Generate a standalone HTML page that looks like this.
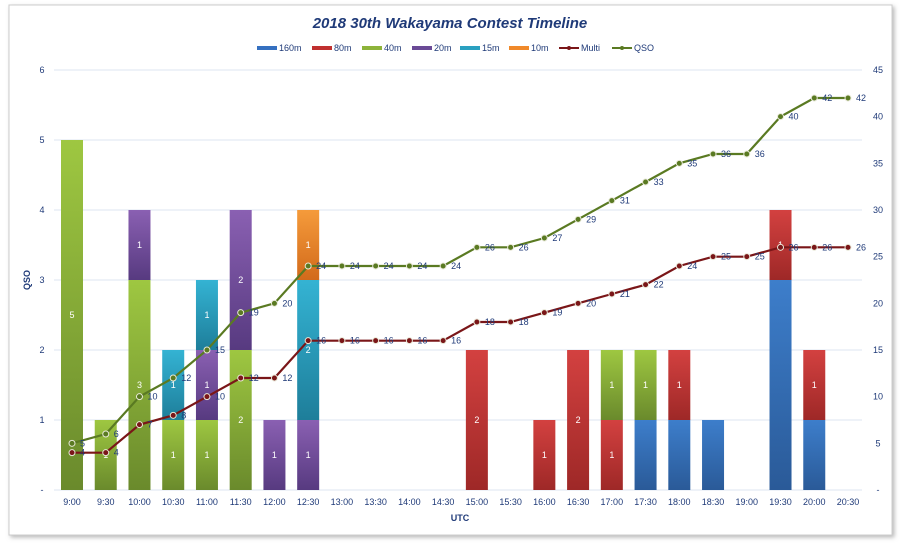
<!DOCTYPE html>
<html><head><meta charset="utf-8"><style>
body{margin:0;background:#fff;}
svg{display:block;font-family:"Liberation Sans",sans-serif;}
</style></head><body>
<svg id="chart" width="900" height="545">
<defs>
<filter id="sh" x="-5%" y="-5%" width="110%" height="110%"><feDropShadow dx="2" dy="2" stdDeviation="2" flood-color="#888" flood-opacity="0.6"/></filter>
<linearGradient id="g160" x1="0" y1="0" x2="0" y2="1"><stop offset="0" stop-color="#3d7ecb"/><stop offset="1" stop-color="#2a5a98"/></linearGradient>
<linearGradient id="g80" x1="0" y1="0" x2="0" y2="1"><stop offset="0" stop-color="#d34140"/><stop offset="1" stop-color="#9e2827"/></linearGradient>
<linearGradient id="g40" x1="0" y1="0" x2="0" y2="1"><stop offset="0" stop-color="#9ec741"/><stop offset="1" stop-color="#6a8a2c"/></linearGradient>
<linearGradient id="g20" x1="0" y1="0" x2="0" y2="1"><stop offset="0" stop-color="#8a60b2"/><stop offset="1" stop-color="#573a80"/></linearGradient>
<linearGradient id="g15" x1="0" y1="0" x2="0" y2="1"><stop offset="0" stop-color="#34b3d3"/><stop offset="1" stop-color="#1e7e9a"/></linearGradient>
<linearGradient id="g10" x1="0" y1="0" x2="0" y2="1"><stop offset="0" stop-color="#f59b3b"/><stop offset="1" stop-color="#d26a1b"/></linearGradient>
</defs>
<rect x="9" y="5" width="883" height="530" fill="#fff" stroke="#ccc" filter="url(#sh)"/>
<text x="450" y="28" text-anchor="middle" font-size="15" font-weight="bold" font-style="italic" fill="#1f3a78">2018 30th Wakayama  Contest Timeline</text>
<g id="legend"></g>
<g id="grid"></g><g id="bars"></g><g id="lines"></g><g id="axes"></g>
<text x="30" y="280" transform="rotate(-90 30 280)" text-anchor="middle" font-size="9" font-weight="bold" fill="#1f3a78">QSO</text>
<text x="460" y="521" text-anchor="middle" font-size="9" font-weight="bold" fill="#1f3a78">UTC</text>
</svg>
<script>
const categories=["9:00","9:30","10:00","10:30","11:00","11:30","12:00","12:30","13:00","13:30","14:00","14:30","15:00","15:30","16:00","16:30","17:00","17:30","18:00","18:30","19:00","19:30","20:00","20:30"];
const b160=[0,0,0,0,0,0,0,0,0,0,0,0,0,0,0,0,0,1,1,1,0,3,1,0];
const b80 =[0,0,0,0,0,0,0,0,0,0,0,0,2,0,1,2,1,0,1,0,0,1,1,0];
const b40 =[5,1,3,1,1,2,0,0,0,0,0,0,0,0,0,0,1,1,0,0,0,0,0,0];
const b20 =[0,0,1,0,1,2,1,1,0,0,0,0,0,0,0,0,0,0,0,0,0,0,0,0];
const b15 =[0,0,0,1,1,0,0,2,0,0,0,0,0,0,0,0,0,0,0,0,0,0,0,0];
const b10 =[0,0,0,0,0,0,0,1,0,0,0,0,0,0,0,0,0,0,0,0,0,0,0,0];
const multi=[4,4,7,8,10,12,12,16,16,16,16,16,18,18,19,20,21,22,24,25,25,26,26,26];
const qso=[5,6,10,12,15,19,20,24,24,24,24,24,26,26,27,29,31,33,35,36,36,40,42,42];
const leftTicks=[0,1,2,3,4,5,6];
const rightTicks=[0,5,10,15,20,25,30,35,40,45];
const NS="http://www.w3.org/2000/svg";
const X0=72,X1=848,Y0=490,Y1=70;
const xs=i=>X0+i*(X1-X0)/(categories.length-1);
const yl=v=>Y0-v*(Y0-Y1)/6;
const yr=v=>Y0-v*(Y0-Y1)/45;
function mk(tag,attrs,parent,txt){const e=document.createElementNS(NS,tag);for(const k in attrs)e.setAttribute(k,attrs[k]);if(txt!==undefined)e.textContent=txt;parent.appendChild(e);return e;}
const grid=document.getElementById('grid'),bars=document.getElementById('bars'),lines=document.getElementById('lines'),axes=document.getElementById('axes'),legend=document.getElementById('legend');
leftTicks.forEach(t=>{
  const l=mk('line',{x1:54,x2:862,y1:yl(t),y2:yl(t),stroke:'#dce6f2','stroke-width':1},grid);
  
  
  const tx=mk('text',{x:42,y:yl(t)+3,'text-anchor':'middle','font-size':9,fill:'#1f3a78'},axes,t===0?'-':String(t));
  
  
});
rightTicks.forEach(t=>{
  const tx=mk('text',{x:878,y:yr(t)+3,'text-anchor':'middle','font-size':9,fill:'#1f3a78'},axes,t===0?'-':String(t));
  
  
});
categories.forEach((c,i)=>{
  const tx=mk('text',{x:xs(i),y:505,'text-anchor':'middle','font-size':9,fill:'#1f3a78'},axes,c);
  
  
});
const series=[["160m",b160,"g160"],["80m",b80,"g80"],["40m",b40,"g40"],["20m",b20,"g20"],["15m",b15,"g15"],["10m",b10,"g10"]];
categories.forEach((c,i)=>{
  let acc=0;
  series.forEach(([name,arr,g])=>{
    const v=arr[i]; if(!v) return;
    const top=yl(acc+v),bot=yl(acc);
    const r=mk('rect',{x:xs(i)-11,y:top,width:22,height:bot-top,fill:'url(#'+g+')'},bars);
    
    
    if(name!=="160m"){
      const t=mk('text',{x:xs(i),y:(top+bot)/2+3,'text-anchor':'middle','font-size':9,fill:'#fff'},bars,String(v));
      
      
    }
    acc+=v;
  });
});
function drawLine(arr,color,name){
  const pts=arr.map((v,i)=>xs(i)+','+yr(v)).join(' ');
  const pl=mk('polyline',{points:pts,fill:'none',stroke:color,'stroke-width':2.2},lines);
  
  
  arr.forEach((v,i)=>{
    const c=mk('circle',{cx:xs(i),cy:yr(v),r:3,fill:color,stroke:'#e8e8d8','stroke-width':1},lines);
    
    
    const t=mk('text',{x:xs(i)+8,y:yr(v)+3,'font-size':9,fill:'#1f3a78'},lines,String(v));
    
    
  });
}
drawLine(multi,'#7a1618','multi');
drawLine(qso,'#5a7a22','qso');
const leg=[["160m","#3570c0",0],["80m","#c0302f",0],["40m","#8db33a",0],["20m","#6a4a96",0],["15m","#2aa0c0",0],["10m","#f0892a",0],["Multi","#7a1618",1],["QSO","#5a7a22",1]];
const legX=[257,312,362,412,460,509,559,612];
leg.forEach(([n,col,isLine],k)=>{
  const g=mk('g',{},legend);
  
  
  const x=legX[k];
  if(isLine){mk('line',{x1:x,x2:x+20,y1:48,y2:48,stroke:col,'stroke-width':2},g);mk('circle',{cx:x+10,cy:48,r:2,fill:col},g);}
  else mk('rect',{x:x,y:46,width:20,height:4,fill:col},g);
  mk('text',{x:x+22,y:51,'font-size':9,fill:'#1f3a78'},g,n);
});
</script>
</body></html>
